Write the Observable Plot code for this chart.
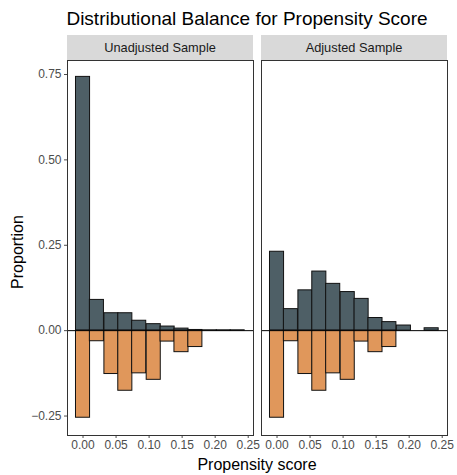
<!DOCTYPE html>
<html><head><meta charset="utf-8">
<script src="https://cdn.jsdelivr.net/npm/d3@7"></script>
<script src="https://cdn.jsdelivr.net/npm/@observablehq/plot@0.6"></script>
<style>
body{margin:0;background:#fff;}
#wrap{position:relative;width:457px;height:475px;}
</style></head><body>
<div id="wrap"></div>
<script>
// ---- data ----
const panels = ["Unadjusted Sample", "Adjusted Sample"];
const groups = ["treated", "control"];
const binCenters = [0.000, 0.021, 0.043, 0.064, 0.085, 0.107, 0.128, 0.149, 0.170, 0.192, 0.213, 0.234];
const binWidth = 0.0213;
const treatedUnadjusted = [0.743, 0.090, 0.051, 0.051, 0.029, 0.019, 0.012, 0.006, 0.002, 0.001, 0.001, 0.001];
const treatedAdjusted   = [0.231, 0.063, 0.118, 0.173, 0.137, 0.113, 0.093, 0.037, 0.025, 0.015, 0.000, 0.007];
const control           = [0.255, 0.031, 0.127, 0.176, 0.125, 0.144, 0.032, 0.063, 0.048, 0.000, 0.000, 0.000];
const xTicks = [0, 0.05, 0.10, 0.15, 0.20, 0.25];
const yTicks = [-0.25, 0, 0.25, 0.50, 0.75];
const titleText = "Distributional Balance for Propensity Score";
const xTitle = "Propensity score";
const yTitle = "Proportion";

const rows = [];
panels.forEach((p, pi) => {
  const t = pi === 0 ? treatedUnadjusted : treatedAdjusted;
  binCenters.forEach((c, i) => {
    rows.push({panel: p, group: "treated", x1: c - binWidth / 2, x2: c + binWidth / 2, y: t[i]});
    rows.push({panel: p, group: "control", x1: c - binWidth / 2, x2: c + binWidth / 2, y: -control[i]});
  });
});

const FONT = "'Liberation Sans', Arial, Helvetica, sans-serif";
const chart = Plot.plot({
  width: 457, height: 475,
  marginTop: 60, marginBottom: 40, marginLeft: 66, marginRight: 9,
  style: {fontFamily: FONT, fontSize: "12px", color: "#4d4d4d", background: "white"},
  facet: {data: rows, x: "panel"},
  fx: {domain: panels, paddingInner: 0.041, paddingOuter: 0, axis: null, label: null},
  x: {domain: [-0.0235, 0.258], ticks: xTicks, tickFormat: d3.format(".2f"), label: null, tickSize: 3, tickPadding: 2},
  y: {domain: [-0.307, 0.791], ticks: yTicks, tickFormat: d3.format(".2f"), label: null, tickSize: 3, tickPadding: 3},
  color: {domain: groups, range: ["#4e5f66", "#e0975b"]},
  marks: [
    Plot.rectY(rows, {x1: "x1", x2: "x2", y: "y", fill: "group", stroke: "#111", strokeWidth: 1}),
    Plot.ruleY([0], {stroke: "#000", strokeWidth: 1}),
    Plot.frame({stroke: "#333", strokeWidth: 1})
  ]
});
document.getElementById("wrap").appendChild(chart);

// strips and titles positioned with the facet scale
const svg = d3.select(chart);
const fx = chart.scale("fx");
const bw = fx.bandwidth != null ? fx.bandwidth : (457 - 66 - 9) / (2 - 0.041) * (1 - 0.041);
const strips = svg.append("g");
panels.forEach(p => {
  const x0 = fx.apply(p);
  strips.append("rect").attr("x", x0).attr("y", 35).attr("width", bw).attr("height", 25).attr("fill", "#d9d9d9");
  strips.append("text").attr("x", x0 + bw / 2).attr("y", 52).attr("text-anchor", "middle")
    .attr("font-family", FONT).attr("font-size", 12.8).attr("fill", "#1a1a1a").text(p);
});
svg.append("text").attr("x", 247).attr("y", 24.5).attr("text-anchor", "middle")
  .attr("font-family", FONT).attr("font-size", 19).attr("fill", "#000").text(titleText);
svg.append("text").attr("x", 257).attr("y", 469.5).attr("text-anchor", "middle")
  .attr("font-family", FONT).attr("font-size", 16).attr("fill", "#000").text(xTitle);
svg.append("text").attr("transform", "translate(23,252) rotate(-90)").attr("text-anchor", "middle")
  .attr("font-family", FONT).attr("font-size", 16).attr("fill", "#000").text(yTitle);
</script>
</body></html>
